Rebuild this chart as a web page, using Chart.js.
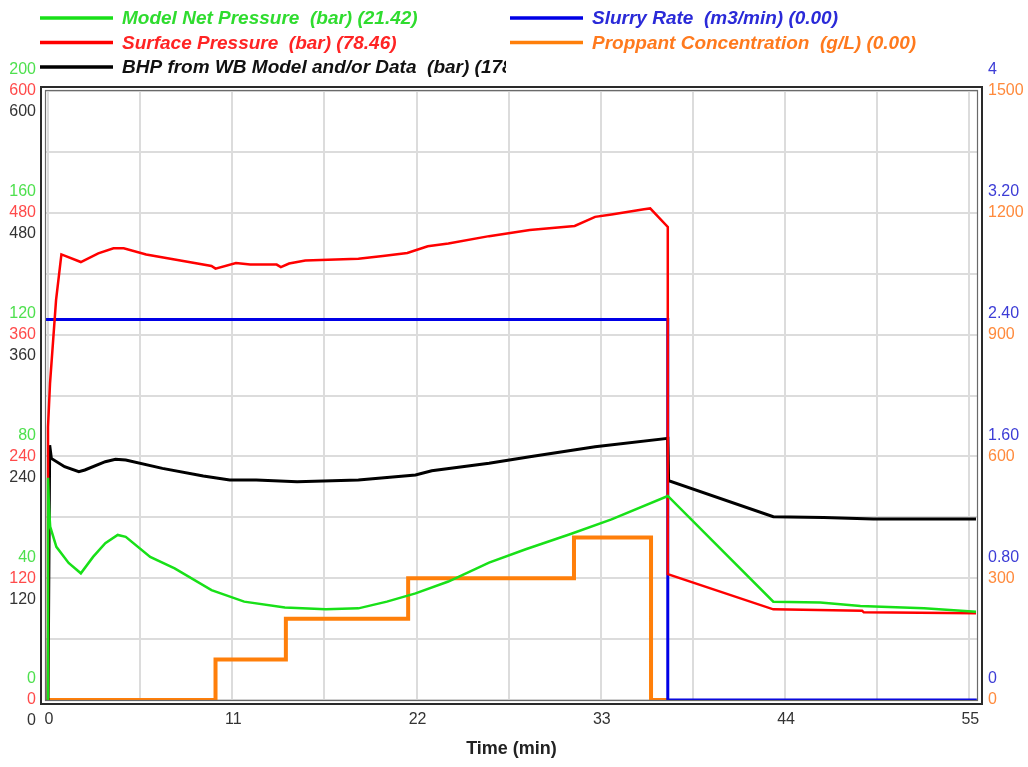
<!DOCTYPE html>
<html>
<head>
<meta charset="utf-8">
<script src="https://cdn.jsdelivr.net/npm/chart.js@4.4.1/dist/chart.umd.min.js"></script>
<style>
  html, body { margin: 0; padding: 0; background: #ffffff; }
  #wrap { width: 1028px; height: 767px; position: relative; }
</style>
</head>
<body>
<div id="wrap"><canvas id="c" width="1028" height="767"></canvas></div>
<script>
// ---- tick labels ----
const timeTicks = [0, 11, 22, 33, 44, 55];
const timeGrid = [0, 5.5, 11, 16.5, 22, 27.5, 33, 38.5, 44, 49.5, 55];
const netTicks = [0, 40, 80, 120, 160, 200];
const surfaceTicks = [0, 120, 240, 360, 480, 600];
const bhpTicks = [0, 120, 240, 360, 480, 600];
const pressureGrid = [0, 60, 120, 180, 240, 300, 360, 420, 480, 540, 600];
const rateTicks = ['0', '0.80', '1.60', '2.40', '3.20', '4'];
const proppantTicks = [0, 300, 600, 900, 1200, 1500];

// ---- Model Net Pressure (bar) ----
const netTime = [0, 0, 0.06, 0.13, 0.5, 1.23, 1.96, 2.69, 3.42, 4.16, 4.64, 6.1, 7.56, 9.76, 11.71, 14.14, 16.58, 18.53, 20.23, 21.94, 23.9, 26.33, 28.52, 31.2, 33.64, 37.0, 43.3, 46.1, 48.5, 52.3, 55.4];
const netPressure = [0, 73, 63, 56.9, 50.3, 45, 41.6, 47, 51.5, 54.2, 53.6, 47, 43.2, 36.1, 32.3, 30.4, 29.8, 30.1, 32.3, 35, 38.9, 45.1, 49.5, 54.5, 59.3, 67, 32.3, 32, 30.9, 30.1, 29];

// ---- Surface Pressure (bar) ----
const surfaceTime = [0, 0, 0.12, 0.48, 0.8, 1.96, 3.0, 3.91, 4.52, 5.86, 7.56, 9.76, 10.0, 11.22, 12.07, 13.65, 13.9, 14.39, 15.36, 18.53, 19.99, 21.45, 22.67, 23.9, 26.33, 28.76, 31.44, 32.66, 33.64, 35.58, 35.95, 37.0, 37.0, 43.3, 48.6, 48.7, 55.4];
const surfacePressure = [0, 269, 312, 394, 439, 431.5, 440, 445, 445, 439, 434, 427.6, 425, 430.5, 429, 429, 426.5, 430, 433, 434.8, 437.5, 440.4, 447, 449.7, 457, 463, 467, 476, 478.4, 483.6, 484.3, 466, 124, 89.3, 88, 86.4, 85.4];

// ---- BHP from WB Model and/or Data (bar) ----
const bhpTime = [0, 0.1, 0.2, 0.99, 1.84, 2.2, 3.42, 4.03, 4.64, 6.83, 9.27, 10.85, 12.43, 14.87, 18.53, 21.94, 22.91, 26.33, 28.76, 32.66, 37.0, 37.05, 43.3, 46.3, 49.27, 55.4];
const bhp = [0, 251, 238, 229.9, 224.9, 226.6, 234.8, 237.1, 236.4, 228.2, 220.7, 216.7, 216.7, 215, 216.7, 221.7, 225.9, 233.2, 239.7, 249.6, 257.8, 216, 180.6, 179.7, 178.3, 178.3];

// ---- Slurry Rate (m3/min) ----
const rateTime = [-0.2, 37.0, 37.0, 55.45];
const slurryRate = [2.5, 2.5, 0, 0];

// ---- Proppant Concentration (g/L) ----
const proppantTime = [0, 10.0, 10.0, 14.2, 14.2, 21.5, 21.5, 31.4, 31.4, 36.0, 36.0, 37.0];
const proppant = [0, 0, 100, 100, 200, 200, 300, 300, 400, 400, 0, 0];

const COLORS = {
  net: '#18e018', surface: '#ff0000', bhp: '#000000', rate: '#0000e6', prop: '#ff7f0a'
};
const TEXT = {
  net: '#2fdc2f', surface: '#ff2424', bhp: '#111111', rate: '#2a2ad8', prop: '#ff7a1e'
};
const TICK_TEXT = {
  net: '#4ee04e', surface: '#ff4a4a', bhp: '#333333', rate: '#3c3cd6', prop: '#ff8a3c'
};

const pts = (xs, ys) => xs.map((x, i) => ({ x: x, y: ys[i] }));

const lineDs = (label, xs, ys, color, width, axis, order) => ({
  label: label,
  data: pts(xs, ys),
  borderColor: color,
  backgroundColor: color,
  borderWidth: width,
  pointRadius: 0,
  tension: 0,
  fill: false,
  yAxisID: axis,
  order: order
});

const FONT = '"Liberation Sans", Arial, sans-serif';

const legendItems = [
  { text: 'Model Net Pressure  (bar) (21.42)', key: 'net', col: 0, row: 0 },
  { text: 'Surface Pressure  (bar) (78.46)', key: 'surface', col: 0, row: 1 },
  { text: 'BHP from WB Model and/or Data  (bar) (178.30)', key: 'bhp', col: 0, row: 2 },
  { text: 'Slurry Rate  (m3/min) (0.00)', key: 'rate', col: 1, row: 0 },
  { text: 'Proppant Concentration  (g/L) (0.00)', key: 'prop', col: 1, row: 1 }
];

const decorations = {
  id: 'decorations',
  afterDraw(chart) {
    const ctx = chart.ctx;
    const s = chart.scales;
    const area = chart.chartArea;
    ctx.save();

    // double frame around the plot
    ctx.strokeStyle = '#6a6a6a';
    ctx.lineWidth = 1.2;
    ctx.strokeRect(area.left - 0.5, area.top - 0.5, area.right - area.left + 1, area.bottom - area.top + 1);
    ctx.strokeStyle = '#2a2a2a';
    ctx.lineWidth = 2;
    ctx.strokeRect(area.left - 5, area.top - 4, area.right - area.left + 10, area.bottom - area.top + 8);

    // legend
    const colLine = [40, 510], colText = [122, 592], rowY = [18, 42.5, 67];
    legendItems.forEach(it => {
      const y = rowY[it.row];
      ctx.save();
      if (it.col === 0) {
        ctx.beginPath();
        ctx.rect(0, 0, 506, 90);
        ctx.clip();
      }
      ctx.strokeStyle = COLORS[it.key];
      ctx.lineWidth = 3.5;
      ctx.beginPath();
      ctx.moveTo(colLine[it.col], y);
      ctx.lineTo(colLine[it.col] + 73, y);
      ctx.stroke();
      ctx.font = 'italic bold 19px ' + FONT;
      ctx.fillStyle = TEXT[it.key];
      ctx.textAlign = 'left';
      ctx.textBaseline = 'middle';
      ctx.fillText(it.text, colText[it.col], y + 1);
      ctx.restore();
    });

    // left value axes
    ctx.font = '16px ' + FONT;
    ctx.textBaseline = 'middle';
    ctx.textAlign = 'right';
    const lx = 36;
    netTicks.forEach(v => {
      ctx.fillStyle = TICK_TEXT.net;
      ctx.fillText(String(v), lx, s.yNet.getPixelForValue(v) - 21);
    });
    surfaceTicks.forEach(v => {
      ctx.fillStyle = TICK_TEXT.surface;
      ctx.fillText(String(v), lx, s.ySurface.getPixelForValue(v));
    });
    bhpTicks.forEach(v => {
      ctx.fillStyle = TICK_TEXT.bhp;
      ctx.fillText(String(v), lx, s.yBhp.getPixelForValue(v) + 21);
    });

    // right value axes
    ctx.textAlign = 'left';
    const rx = 988;
    rateTicks.forEach(v => {
      ctx.fillStyle = TICK_TEXT.rate;
      ctx.fillText(v, rx, s.yRate.getPixelForValue(parseFloat(v)) - 21);
    });
    proppantTicks.forEach(v => {
      ctx.fillStyle = TICK_TEXT.prop;
      ctx.fillText(String(v), rx, s.yProp.getPixelForValue(v));
    });

    // time axis
    ctx.textAlign = 'center';
    ctx.fillStyle = '#333333';
    timeTicks.forEach(v => {
      ctx.fillText(String(v), s.x.getPixelForValue(v) + 1, area.bottom + 20);
    });
    ctx.font = 'bold 18px ' + FONT;
    ctx.fillStyle = '#222222';
    ctx.fillText('Time (min)', (area.left + area.right) / 2, area.bottom + 49);

    ctx.restore();
  }
};

new Chart(document.getElementById('c'), {
  type: 'line',
  data: {
    datasets: [
      lineDs('Model Net Pressure', netTime, netPressure, COLORS.net, 2.5, 'yNet', 1),
      lineDs('Surface Pressure', surfaceTime, surfacePressure, COLORS.surface, 2.5, 'ySurface', 2),
      lineDs('BHP from WB Model and/or Data', bhpTime, bhp, COLORS.bhp, 3, 'yBhp', 3),
      lineDs('Slurry Rate', rateTime, slurryRate, COLORS.rate, 3, 'yRate', 4),
      lineDs('Proppant Concentration', proppantTime, proppant, COLORS.prop, 4, 'yProp', 5)
    ]
  },
  options: {
    responsive: false,
    animation: false,
    devicePixelRatio: 1,
    layout: { padding: { left: 46, right: 51, top: 91, bottom: 67 } },
    plugins: { legend: { display: false }, tooltip: { enabled: false } },
    scales: {
      x: {
        type: 'linear', min: -0.12, max: 55.46,
        border: { display: false },
        grid: { color: '#dcdcdc', lineWidth: 2, drawTicks: false },
        ticks: { display: false },
        afterBuildTicks: sc => { sc.ticks = timeGrid.map(v => ({ value: v })); }
      },
      ySurface: {
        type: 'linear', position: 'left', min: 0, max: 600,
        border: { display: false },
        grid: { color: '#dcdcdc', lineWidth: 2, drawTicks: false },
        ticks: { display: false },
        afterBuildTicks: sc => { sc.ticks = pressureGrid.map(v => ({ value: v })); }
      },
      yNet: { type: 'linear', position: 'left', min: 0, max: 200, display: false },
      yBhp: { type: 'linear', position: 'left', min: 0, max: 600, display: false },
      yRate: { type: 'linear', position: 'right', min: 0, max: 4, display: false },
      yProp: { type: 'linear', position: 'right', min: 0, max: 1500, display: false }
    }
  },
  plugins: [decorations]
});
</script>
</body>
</html>
